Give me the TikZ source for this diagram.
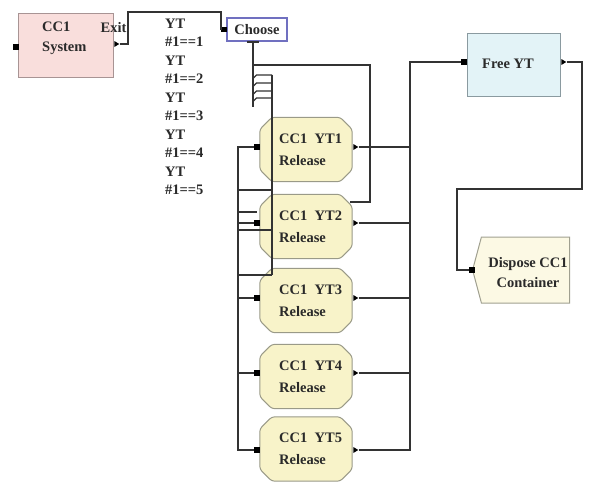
\documentclass[tikz,border=0pt]{standalone}
\usepackage{fontspec}
\setmainfont{Liberation Serif}
\usetikzlibrary{shapes.misc,shapes.symbols,shapes.geometric,calc}
\definecolor{wirec}{HTML}{333333}
\definecolor{txtc}{HTML}{2A2A2A}
\definecolor{sysfill}{HTML}{F9DEDC}
\definecolor{sysdraw}{HTML}{A89494}
\definecolor{relfill}{HTML}{F8F3C9}
\definecolor{reldraw}{HTML}{9A9A88}
\definecolor{freefill}{HTML}{E3F3F7}
\definecolor{freedraw}{HTML}{8A9AA0}
\definecolor{dispfill}{HTML}{FCF9E4}
\definecolor{dispdraw}{HTML}{A0A090}
\definecolor{choosedraw}{HTML}{7070C0}
\begin{document}
\begin{tikzpicture}[x=1pt,y=-1pt,
  font=\fontsize{14.5}{20}\selectfont\bfseries, text=txtc,
  wire/.style={draw=wirec,line width=1.3pt},
  inport/.style={rectangle,fill=black,minimum size=5.5pt,inner sep=0pt},
  outport/.style={isosceles triangle,isosceles triangle stretches,fill=black,minimum width=6pt,minimum height=5pt,inner sep=0pt},
  sysbox/.style={rectangle,fill=sysfill,draw=sysdraw,line width=1pt,minimum width=95pt,minimum height=64pt,inner sep=0pt},
  relbox/.style={rectangle,minimum width=92pt,minimum height=64pt,inner sep=0pt},
  relshape/.style={fill=relfill,draw=reldraw,line width=1pt,rounded corners=3pt},
  reltext/.style={anchor=west,align=left,inner sep=0pt,font=\fontsize{14.5}{22}\selectfont\bfseries},
  freebox/.style={rectangle,fill=freefill,draw=freedraw,line width=1pt,minimum width=93pt,minimum height=63pt,inner sep=0pt},
  dispbox/.style={signal,signal to=west,signal from=nowhere,signal pointer angle=150,fill=dispfill,draw=dispdraw,line width=1pt,minimum width=97pt,minimum height=66pt,inner sep=0pt},
  choosebox/.style={rectangle,fill=white,draw=choosedraw,line width=1.2pt,minimum width=60pt,minimum height=23pt,inner sep=0pt}
]
\useasboundingbox (0,0) rectangle (590,483);

% ---------- boxes ----------
\node[sysbox] (sys) at (65.5,45) {};
\node[anchor=west,align=left,inner sep=0pt] (systxt) at (42,38) {CC1\\System};
\node[inner sep=0pt] (exitlbl) at (113.5,28) {Exit};
\node[choosebox] (choose) at (257,29.5) {Choose};
\node[anchor=north west,align=left,inner sep=0pt,font=\fontsize{14.5}{18.5}\selectfont\bfseries] (cond) at (165,18.5)
  {YT\\\#1==1\\YT\\\#1==2\\YT\\\#1==3\\YT\\\#1==4\\YT\\\#1==5};

\foreach \i/\yc in {1/149.5,2/226.5,3/300.5,4/376.5,5/449}{
  \node[relbox] (r\i) at (306,\yc) {};
  \path[relshape] ($(r\i.north west)+(12,0)$) -- ($(r\i.north east)+(-12,0)$)
     -- ($(r\i.north east)+(0,12)$) -- ($(r\i.south east)+(0,-12)$)
     -- ($(r\i.south east)+(-12,0)$) -- ($(r\i.south west)+(12,0)$)
     -- ($(r\i.south west)+(0,-12)$) -- ($(r\i.north west)+(0,12)$) -- cycle;
  \node[reltext] (r\i t) at (279,\yc) {CC1~~YT\i\\Release};
}
\node[freebox] (free) at (513.5,64.5) {};
\node[inner sep=0pt] (freetxt) at (508,64) {Free YT};
\node[dispbox] (disp) at (525.5,270) {};
\node[align=center,inner sep=0pt] (disptxt) at (528,273) {Dispose CC1\\Container};

% ---------- ports ----------
\node[inport] (sysin) at (16,47) {};
\node[outport] (sysout) at (116,44) {};
\node[inport] (chin) at (224,29.5) {};
\node[rectangle,fill=wirec,minimum width=12pt,minimum height=2.5pt,inner sep=0pt] (chout) at (253,42) {};
\foreach \i/\py in {1/147,2/223,3/298,4/373,5/450}{
  \node[inport] (r\i in) at (257,\py) {};
  \node[outport] (r\i out) at (355,\py) {};
}
\node[inport] (freein) at (464,62) {};
\node[outport] (freeout) at (563,62) {};
\node[inport] (dispin) at (472,270) {};

\coordinate (lb) at (238,0);
\coordinate (rb) at (410,0);

% ---------- wires ----------
\draw[wire] (sysout.east) -| (128,12) -| (221,29.5) -- (chin.west);
\draw[wire] (chout.south) -- (253,107);
\draw[wire] (253,65) -- (370,65) -- (370,202) -- (350,202);
\foreach \ty in {75,83,91,98}{
  \draw[wire] (253,\ty+3.5) -- (256.5,\ty) -- (272,\ty);
}
\draw[wire] (272,75) -- (272,275);
\draw[wire] (238,190) -- (272,190);
\draw[wire] (238,230) -- (272,230);
\draw[wire] (238,275) -- (272,275);
\draw[wire] (238,212) -- (257,212);

\draw[wire] (r1in.west) -| (lb |- r5in) -- (r5in.west);
\foreach \i in {2,3,4}{
  \draw[wire] (r\i in.west) -- (r\i in -| lb);
}
\draw[wire] (r5out.east) -| (rb |- freein) -- (freein.west);
\foreach \i in {1,2,3,4}{
  \draw[wire] (r\i out.east) -- (r\i out -| rb);
}
\draw[wire] (freeout.east) -| (582,189) -| (457,270) -- (dispin.west);
\end{tikzpicture}
\end{document}
